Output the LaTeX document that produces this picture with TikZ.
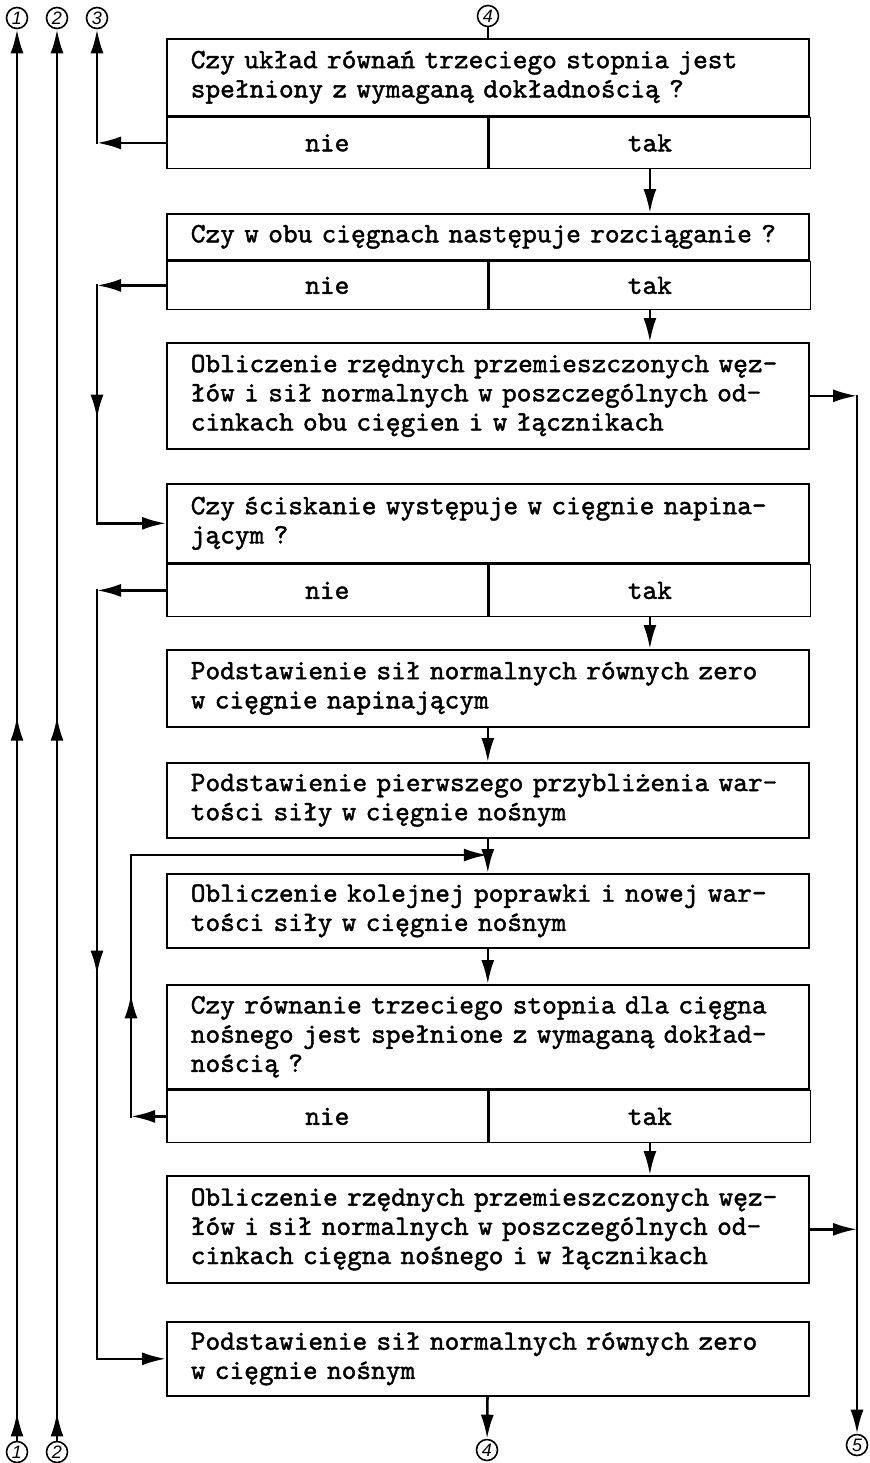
\documentclass[tikz,border=0pt]{standalone}
\usepackage{fontspec}
\setsansfont{Liberation Sans}
\newfontfamily\maszyna{lmmono10-regular.otf}[FakeBold=1.5]
\usetikzlibrary{arrows.meta,decorations.markings}

\begin{document}
\begin{tikzpicture}[x=0.5pt,y=-0.5pt]
	\tikzset{blok/.style={draw,line width=.8pt,anchor=north west,minimum width=321pt,
			text width=297pt,inner xsep=12pt,inner ysep=0pt,align=left,
			font=\maszyna\fontsize{14}{14.6}\selectfont},
		pole/.style={draw,line width=.8pt,anchor=north west,minimum width=160.5pt,
			minimum height=25.5pt,inner sep=0pt,
			font=\maszyna\fontsize{14}{14.6}\selectfont},
		znak/.style={circle,draw,line width=.8pt,inner sep=0pt,minimum size=10.5pt,
			font=\sffamily\itshape\fontsize{9}{9}\selectfont},
		linia/.style={line width=1.3pt,line cap=rect,>={Latex[length=12pt,width=6.5pt]}},
		grot/.style={postaction={decorate,decoration={markings,
						mark=at position #1 with {\arrow{Latex[length=12pt,width=6.5pt]}}}}}}
	\useasboundingbox (0,0) rectangle (869,1463);
	\node[znak] (c1g) at (17,18) {1};
	\node[znak] (c2g) at (57,18) {2};
	\node[znak] (c3g) at (97,18) {3};
	\node[znak] (c4g) at (488,16) {4};
	\node[znak] (c1d) at (17,1452) {1};
	\node[znak] (c2d) at (57,1452) {2};
	\node[znak] (c4d) at (487,1450) {4};
	\node[znak] (c5d) at (857,1445) {5};
	\node[blok,minimum height=38.5pt] (p1) at (166,38)
		{Czy układ równań trzeciego stopnia jest\\spełniony z wymaganą dokładnością ?};
	\node[pole] (n1) at (p1.south west) {nie};
	\node[pole] (t1) at (n1.north east) {tak};
	\node[blok,minimum height=23pt] (p2) at (166,213)
		{Czy w obu cięgnach następuje rozciąganie ?};
	\node[pole,minimum height=24pt] (n2) at (p2.south west) {nie};
	\node[pole,minimum height=24pt] (t2) at (n2.north east) {tak};
	\node[blok,minimum height=53pt] (b3) at (166,342)
		{Obliczenie rzędnych przemieszczonych węz-\\łów i sił normalnych w poszczególnych od-\\cinkach obu cięgien i w łącznikach};
	\node[blok,minimum height=39.5pt] (p4) at (166,483)
		{Czy ściskanie występuje w cięgnie napina-\\jącym ?};
	\node[pole,minimum height=26pt] (n4) at (p4.south west) {nie};
	\node[pole,minimum height=26pt] (t4) at (n4.north east) {tak};
	\node[blok,minimum height=38.5pt] (b5) at (166,649)
		{Podstawienie sił normalnych równych zero\\w cięgnie napinającym};
	\node[blok,minimum height=37.5pt] (b6) at (166,762)
		{Podstawienie pierwszego przybliżenia war-\\tości siły w cięgnie nośnym};
	\node[blok,minimum height=37pt] (b7) at (166,873)
		{Obliczenie kolejnej poprawki i nowej war-\\tości siły w cięgnie nośnym};
	\node[blok,minimum height=52pt] (p8) at (166,984)
		{Czy równanie trzeciego stopnia dla cięgna\\nośnego jest spełnione z wymaganą dokład-\\nością ?};
	\node[pole,minimum height=26pt] (n8) at (p8.south west) {nie};
	\node[pole,minimum height=26pt] (t8) at (n8.north east) {tak};
	\node[blok,minimum height=53.5pt] (b9) at (166,1175)
		{Obliczenie rzędnych przemieszczonych węz-\\łów i sił normalnych w poszczególnych od-\\cinkach cięgna nośnego i w łącznikach};
	\node[blok,minimum height=37pt] (b10) at (166,1321)
		{Podstawienie sił normalnych równych zero\\w cięgnie nośnym};
	\coordinate (k3) at (n1.west -| c3g);
	\coordinate (k2g) at (n2.west -| c3g);
	\coordinate (k2d) at (p4.west -| c3g);
	\coordinate (k5) at (b3.east -| c5d);
	\coordinate (k4g) at (n4.west -| c3g);
	\coordinate (k4d) at (b10.west -| c3g);
	\coordinate (lp) at (131,855);
	\coordinate (k8d) at (n8.west -| lp);
	\coordinate (k8g) at (lp -| b7.north);
	\draw[linia,->,grot=0.02,grot=0.513] (c1d) -- (c1g);
	\draw[linia,->,grot=0.02,grot=0.513] (c2d) -- (c2g);
	\draw[linia,->] (n1.west) -- (k3);
	\draw[linia,->] (k3) -- (c3g);
	\draw[linia] (c4g) -- (c4g |- p1.north);
	\draw[linia,->] (t1.south) -- (t1.south |- p2.north);
	\draw[linia,->] (n2.west) -- (k2g);
	\draw[linia,grot=0.56] (k2g) -- (k2d);
	\draw[linia,->] (k2d) -- (p4.west);
	\draw[linia,->] (t2.south) -- (t2.south |- b3.north);
	\draw[linia,->] (b3.east) -- (k5);
	\draw[linia,->] (k5) -- (c5d);
	\draw[linia,->] (n4.west) -- (k4g);
	\draw[linia,grot=0.5] (k4g) -- (k4d);
	\draw[linia,->] (k4d) -- (b10.west);
	\draw[linia,->] (t4.south) -- (t4.south |- b5.north);
	\draw[linia,->] (b5) -- (b6);
	\draw[linia,->] (b6) -- (b7);
	\draw[linia,->] (b7) -- (p8);
	\draw[linia,->] (n8.west) -- (k8d);
	\draw[linia,grot=0.467] (k8d) -- (lp);
	\draw[linia,->] (lp) -- (k8g);
	\draw[linia,->] (t8.south) -- (t8.south |- b9.north);
	\draw[linia,->] (b9.east) -- (b9.east -| k5);
	\draw[linia,->] (b10) -- (c4d);
\end{tikzpicture}
\end{document}
